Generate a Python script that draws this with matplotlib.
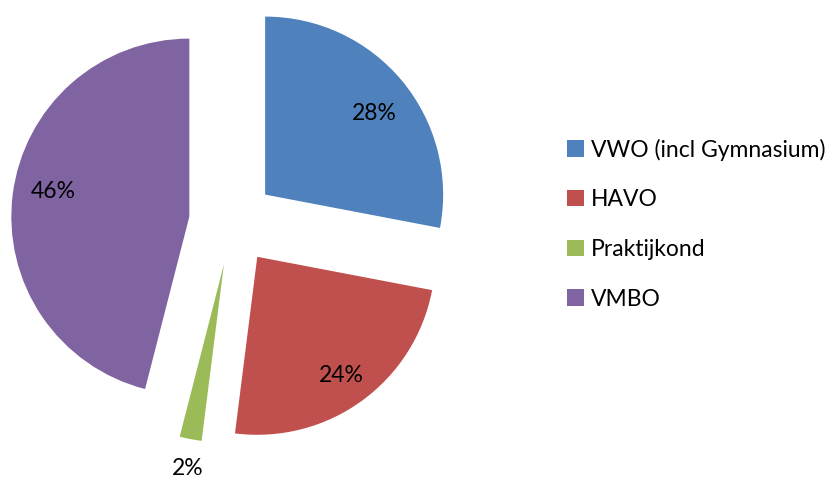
import numpy as np
import matplotlib
matplotlib.use('Agg')
import matplotlib.pyplot as plt

labels = ['VWO (incl Gymnasium)', 'HAVO', 'Praktijkond', 'VMBO']
shares = [28, 24, 2, 46]
colors = ['#4F81BD', '#C0504D', '#9BBB59', '#8064A2']

plt.rcParams['font.family'] = ['Lato', 'DejaVu Sans']

W, H = 837, 478
R = 178
fig = plt.figure(figsize=(W / 100, H / 100), dpi=100)
ax = fig.add_axes([0, 0, 1, 1])

wedges, texts, autotexts = ax.pie(
    shares, colors=colors, startangle=90, counterclock=False,
    explode=[43] * 4, center=(232, H - 222), radius=R,
    autopct='%1.0f%%', pctdistance=0.78, frame=True,
    textprops={'fontsize': 16.5, 'color': 'black'})

# small slice label sits outside the wedge
w = wedges[2]
mid = np.deg2rad((w.theta1 + w.theta2) / 2)
cx, cy = w.center
autotexts[2].set_position((cx + 1.15 * R * np.cos(mid), cy + 1.15 * R * np.sin(mid)))
nudge = [(2, -7), (2, -6), (2, -3), (2, 8)]
for t, (dx, dy) in zip(autotexts, nudge):
    x, y = t.get_position()
    t.set_position((x + dx, y + dy))

ax.set_xlim(0, W)
ax.set_ylim(0, H)
ax.set_aspect('equal')
ax.axis('off')

fig.legend(wedges, labels, loc='center left', bbox_to_anchor=(567 / W, 1 - 224 / H),
           frameon=False, fontsize=16.5, handlelength=0.73, handleheight=0.73,
           handletextpad=0.3, labelspacing=1.25, borderpad=0, borderaxespad=0)

fig.savefig('out.png', dpi=100)
